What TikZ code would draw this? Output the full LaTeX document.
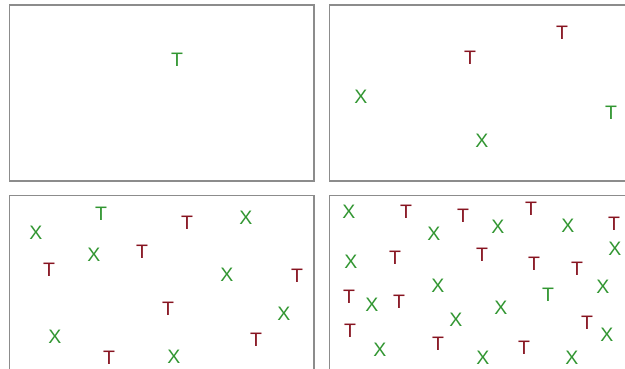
\documentclass[tikz,border=0pt]{standalone}
\usepackage{fontspec}
\setmainfont{Liberation Sans}
\usepackage{tikz}

\definecolor{markred}{RGB}{135,20,32}
\definecolor{markgreen}{RGB}{50,150,50}

\begin{document}
\begin{tikzpicture}[x=1pt, y=-1pt,
    panel/.style={draw=gray!90, line width=1.4pt},
    letter/.style={inner sep=0pt, font=\fontsize{19.5}{19.5}\selectfont},
    tred/.style={letter, text=markred},
    tgreen/.style={letter, text=markgreen},
    xgreen/.style={letter, text=markgreen}]
\useasboundingbox (0,0) rectangle (625,369);
\clip (0,0) rectangle (625,369);

% Panels
\draw[panel] (9.5,5) rectangle (314,181);
\draw[panel] (329.5,5) rectangle (640,181);
\draw[panel] (9.5,195.5) rectangle (314,385);
\draw[panel] (329.5,195.5) rectangle (640,385);

% Panel 1
\node[tgreen] (a1) at (177,60) {T};

% Panel 2
\node[tred] (b1) at (470,58) {T};
\node[tred] (b2) at (562,33) {T};
\node[xgreen] (b3) at (361,97) {X};
\node[tgreen] (b4) at (611,113) {T};
\node[xgreen] (b5) at (482,141) {X};

% Panel 3
\node[tgreen] (c0) at (101,214) {T};
\foreach \x/\y [count=\i] in {187/223, 142/252, 49/270, 297/276, 168/309, 256/340, 109/358}
    \node[tred] (ct\i) at (\x,\y) {T};
\foreach \x/\y [count=\i] in {36/233, 246/218, 94/255, 227/275, 284/314, 55/337, 174/357}
    \node[xgreen] (cx\i) at (\x,\y) {X};

% Panel 4
\node[tgreen] (d0) at (548,295) {T};
\foreach \x/\y [count=\i] in {406/212, 463/216, 531/209, 614/224, 395/258, 482/255,
    534/264, 577/269, 349/297, 399/302, 587/323, 350/331, 438/344, 524/348}
    \node[tred] (dt\i) at (\x,\y) {T};
\foreach \x/\y [count=\i] in {349/212, 434/234, 498/227, 568/226, 615/249, 351/262,
    438/286, 603/287, 372/305, 501/308, 456/320, 607/335, 380/350, 483/358, 572/358}
    \node[xgreen] (dx\i) at (\x,\y) {X};
\end{tikzpicture}
\end{document}
